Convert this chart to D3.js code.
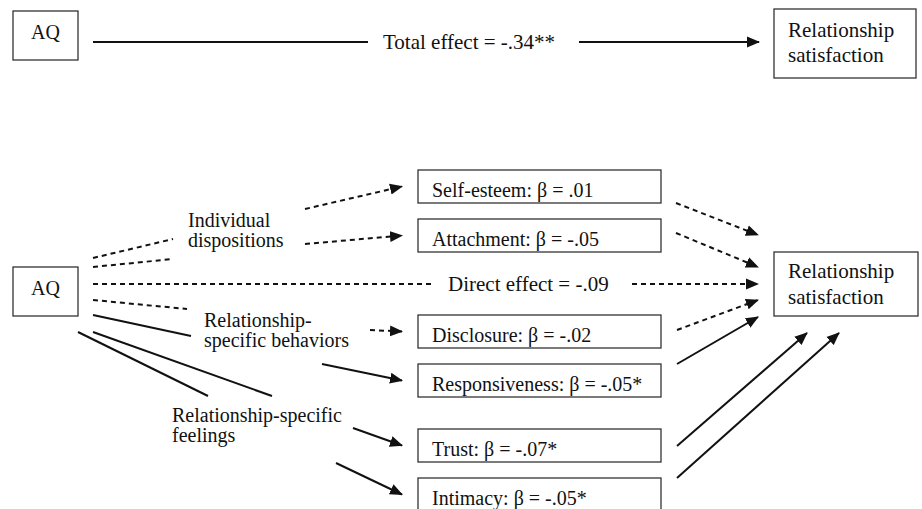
<!DOCTYPE html>
<html>
<head>
<meta charset="utf-8">
<script src="https://cdn.jsdelivr.net/npm/d3@7"></script>
<style>
  html, body { margin: 0; padding: 0; background: #fff; }
  svg text { font-family: "Liberation Serif", "Times New Roman", Times, serif; fill: #111; }
</style>
</head>
<body>
<div id="chart"></div>
<script>
// values
const predictor = "AQ";
const outcomeLines = ["Relationship", "satisfaction"];
const totalEffect = -0.34, totalSig = "**";
const directEffect = -0.09, directSig = "";
const mediators = ["Self-esteem", "Attachment", "Disclosure", "Responsiveness", "Trust", "Intimacy"];
const mediatorBetas = [0.01, -0.05, -0.02, -0.05, -0.07, -0.05];
const mediatorSig = ["", "", "", "*", "*", "*"];
const groupLabels = [["Individual", "dispositions"], ["Relationship-", "specific behaviors"], ["Relationship-specific", "feelings"]];

// layout (pixels)
const W = 922, H = 509;
const fontSize = 20;
const serif = "'Liberation Serif', 'Times New Roman', Times, serif";
const medX = 418, medW = 243, medH = 33;
const medTop = [170, 219, 315, 364, 429, 478];
const groupPos = [[188, 227], [204, 327], [172, 422]];
// AQ -> group label segments, one per mediator
const leftSeg = [[93, 258, 173, 239], [93, 267, 173, 259], [93, 300, 187, 309],
                 [93, 315, 191, 336], [78, 332, 208, 396], [93, 332, 272, 396]];
// group label -> mediator arrows (tail x, tail y); heads go to box mid-left
const midTail = [[305, 209], [305, 244], [370, 330], [322, 364], [353, 428], [336, 463]];
// mediator -> outcome arrows
const rightSeg = [[676, 203, 758, 235], [676, 233, 758, 267], [677, 330, 758, 300],
                  [677, 364, 758, 317], [677, 446, 807, 333], [677, 478, 839, 333]];

// ".01", "-.05" style numbers (plain hyphen, no leading zero)
const fmt = v => (v < 0 ? "-" : "") + Math.abs(v).toFixed(2).replace(/^0/, "");
const dash = "5,4";

const svg = d3.select("#chart").append("svg")
  .attr("width", W).attr("height", H)
  .attr("viewBox", `0 0 ${W} ${H}`)
  .attr("font-family", serif);

svg.append("defs").append("marker")
  .attr("id", "arrow")
  .attr("markerUnits", "userSpaceOnUse")
  .attr("viewBox", "0 -6 13 12")
  .attr("refX", 12).attr("refY", 0)
  .attr("markerWidth", 13).attr("markerHeight", 12)
  .attr("orient", "auto")
  .append("path").attr("d", "M0,-5.5L13,0L0,5.5Z").attr("fill", "#111");

function box(x, y, w, h) {
  svg.append("rect").attr("x", x).attr("y", y).attr("width", w).attr("height", h)
    .attr("fill", "none").attr("stroke", "#333").attr("stroke-width", 1.3);
}
function seg(x1, y1, x2, y2, solid, arrow) {
  let l = svg.append("line")
    .attr("x1", x1).attr("y1", y1).attr("x2", x2).attr("y2", y2)
    .attr("stroke", "#111").attr("stroke-width", 2)
    .attr("stroke-dasharray", solid ? null : dash);
  if (arrow) l.attr("marker-end", "url(#arrow)");
}
function label(x, y, lines, anchor, size, gap) {
  let t = svg.append("text").attr("x", x).attr("y", y)
    .attr("font-family", serif)
    .attr("font-size", size || fontSize).attr("text-anchor", anchor || "start");
  lines.forEach((s, i) => {
    t.append("tspan").attr("x", x).attr("dy", i ? (gap || 20) : 0).text(s);
  });
  return t;
}

// ---- top panel: total effect ----
box(13, 11, 65, 49);
label(45.5, 39, [predictor], "middle");
box(774, 9, 142, 69);
label(788, 37, outcomeLines, "start", 21, 25);
seg(93, 42, 368, 42, true, false);
label(383, 49, [`Total effect = ${fmt(totalEffect)}${totalSig}`], "start", 21);
seg(579, 42, 759, 42, true, true);

// ---- bottom panel: mediation model ----
box(13, 267, 65, 49);
label(45.5, 295, [predictor], "middle");
box(774, 252, 144, 64);
label(788, 278, outcomeLines, "start", 21, 26);

groupLabels.forEach((g, i) => label(groupPos[i][0], groupPos[i][1], g));

// direct effect
const directSolid = directSig !== "";
seg(93, 284, 432, 284, directSolid, false);
label(448, 291, [`Direct effect = ${fmt(directEffect)}${directSig}`], "start", 21);
seg(632, 284, 758, 284, directSolid, true);

// mediator boxes + paths
mediators.forEach((m, i) => {
  const solid = mediatorSig[i] !== "";
  const y = medTop[i];
  box(medX, y, medW, medH);
  label(medX + 14, y + 27, [`${m}: β = ${fmt(mediatorBetas[i])}${mediatorSig[i]}`]);
  const s = leftSeg[i];
  seg(s[0], s[1], s[2], s[3], solid, false);
  seg(midTail[i][0], midTail[i][1], medX - 16, y + medH / 2, solid, true);
  const r = rightSeg[i];
  seg(r[0], r[1], r[2], r[3], solid, true);
});
</script>
</body>
</html>
